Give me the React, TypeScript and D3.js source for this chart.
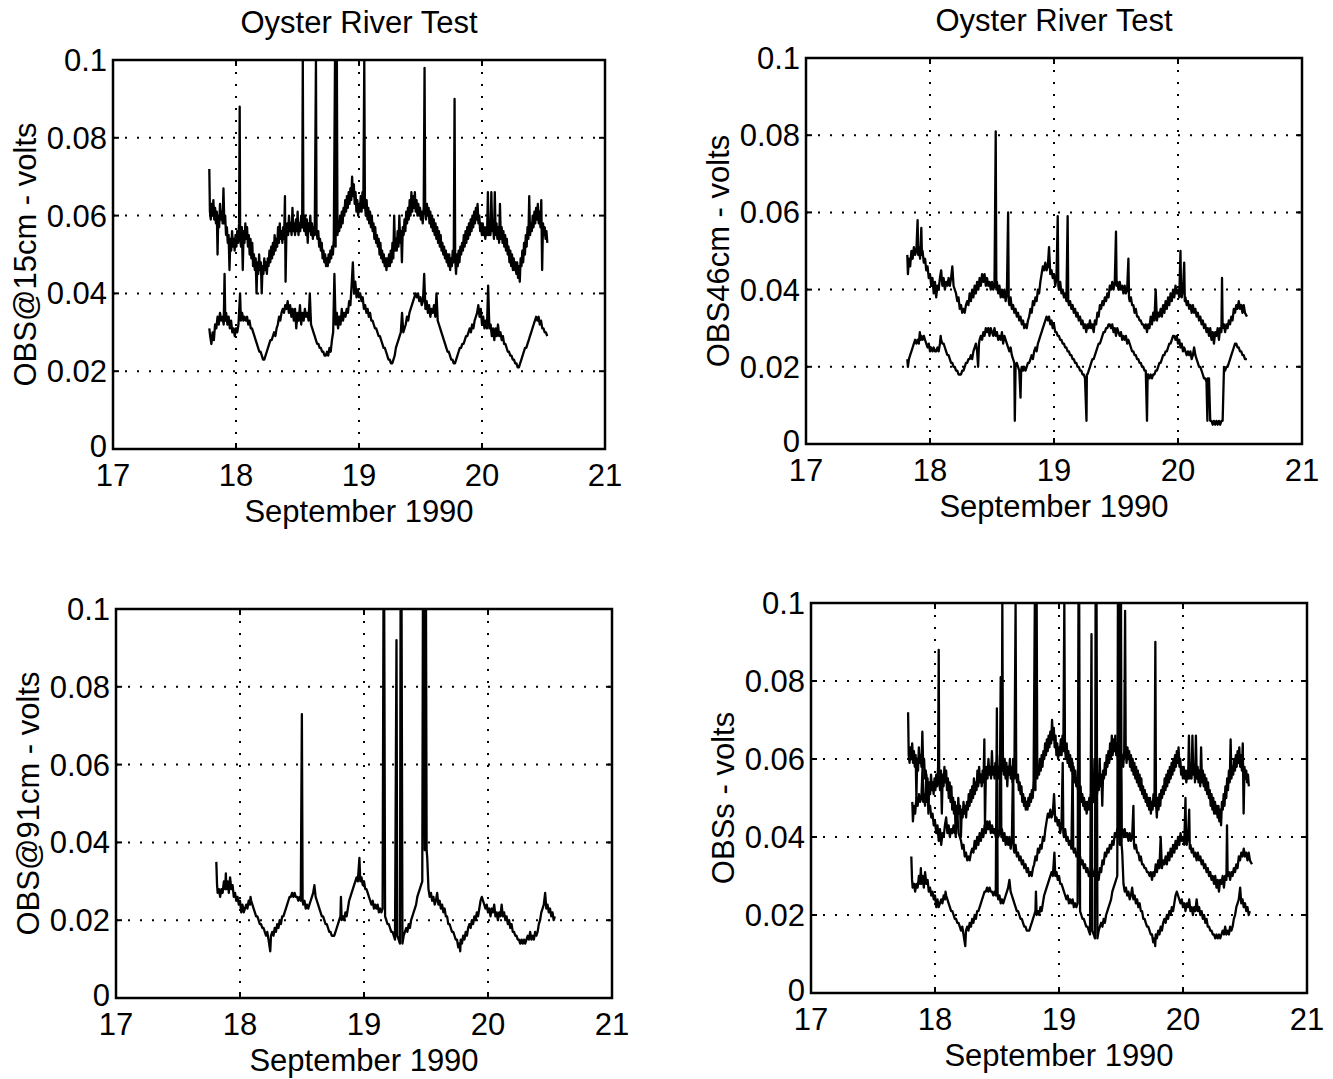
import React from "react";
import * as d3 from "d3";

type Pt = [number, number];

// OBS @ 15 cm, upper trace (day of September 1990, volts)
const obs15Upper: Pt[] = [
[17.783,.072],[17.788,.061],[17.795,.059],[17.802,.063],[17.809,.060],[17.816,.064],[17.823,.059],[17.830,.062],[17.837,.058],[17.844,.061],[17.850,.050],[17.856,.060],[17.863,.057],[17.870,.063],[17.877,.059],[17.884,.061],[17.891,.058],[17.898,.067],[17.905,.058],[17.912,.060],[17.919,.055],[17.926,.057],[17.933,.053],[17.940,.055],[17.947,.046],[17.954,.054],[17.961,.051],[17.968,.056],[17.975,.052],[17.982,.054],[17.989,.051],[17.996,.055],[18.003,.052],[18.010,.056],[18.017,.053],[18.025,.058],[18.030,.088],[18.034,.054],[18.041,.052],[18.048,.057],[18.055,.046],[18.062,.056],[18.069,.053],[18.076,.058],[18.083,.054],[18.090,.057],[18.097,.052],[18.104,.055],[18.111,.050],[18.118,.054],[18.125,.049],[18.132,.053],[18.139,.047],[18.146,.050],[18.153,.046],[18.160,.049],[18.167,.040],[18.174,.048],[18.181,.045],[18.188,.050],[18.195,.046],[18.202,.048],[18.209,.040],[18.216,.047],[18.223,.045],[18.230,.049],[18.237,.046],[18.244,.048],[18.251,.045],[18.258,.049],[18.265,.047],[18.272,.051],[18.279,.048],[18.286,.052],[18.293,.049],[18.300,.053],[18.307,.050],[18.314,.055],[18.321,.051],[18.328,.054],[18.335,.052],[18.342,.057],[18.349,.053],[18.356,.058],[18.363,.054],[18.370,.056],[18.377,.053],[18.384,.057],[18.391,.054],[18.398,.065],[18.403,.043],[18.410,.056],[18.417,.058],[18.424,.055],[18.431,.060],[18.438,.056],[18.445,.058],[18.452,.055],[18.459,.062],[18.466,.056],[18.473,.058],[18.480,.055],[18.487,.059],[18.494,.056],[18.501,.061],[18.508,.055],[18.515,.058],[18.522,.056],[18.530,.060],[18.538,.057],[18.543,.100],[18.548,.058],[18.555,.056],[18.562,.060],[18.569,.055],[18.576,.059],[18.583,.053],[18.590,.058],[18.597,.056],[18.604,.060],[18.611,.055],[18.618,.058],[18.625,.054],[18.632,.057],[18.640,.055],[18.650,.100],[18.655,.056],[18.662,.054],[18.669,.056],[18.676,.052],[18.683,.054],[18.690,.051],[18.697,.053],[18.704,.049],[18.711,.051],[18.718,.048],[18.725,.050],[18.732,.047],[18.739,.049],[18.746,.047],[18.753,.050],[18.760,.048],[18.767,.051],[18.774,.049],[18.781,.052],[18.788,.050],[18.795,.054],[18.805,.100],[18.810,.052],[18.815,.100],[18.820,.100],[18.825,.055],[18.832,.058],[18.839,.056],[18.846,.060],[18.853,.057],[18.860,.061],[18.867,.058],[18.874,.062],[18.881,.060],[18.888,.064],[18.895,.061],[18.902,.065],[18.909,.062],[18.916,.066],[18.923,.063],[18.930,.067],[18.937,.064],[18.944,.070],[18.951,.065],[18.958,.068],[18.965,.063],[18.972,.066],[18.979,.061],[18.986,.064],[18.993,.060],[19.000,.063],[19.007,.061],[19.014,.065],[19.021,.061],[19.028,.066],[19.035,.062],[19.043,.100],[19.048,.063],[19.055,.060],[19.062,.064],[19.069,.059],[19.076,.062],[19.083,.058],[19.090,.061],[19.097,.057],[19.104,.060],[19.111,.056],[19.118,.058],[19.125,.054],[19.132,.057],[19.139,.053],[19.146,.055],[19.153,.052],[19.160,.054],[19.167,.050],[19.174,.053],[19.181,.049],[19.188,.051],[19.195,.048],[19.202,.050],[19.209,.047],[19.216,.049],[19.223,.046],[19.230,.049],[19.237,.047],[19.244,.050],[19.251,.047],[19.258,.051],[19.265,.048],[19.272,.053],[19.279,.049],[19.286,.060],[19.293,.051],[19.300,.054],[19.307,.051],[19.314,.056],[19.321,.052],[19.328,.060],[19.335,.053],[19.342,.056],[19.349,.048],[19.356,.057],[19.363,.055],[19.370,.059],[19.377,.056],[19.384,.061],[19.391,.058],[19.398,.062],[19.405,.059],[19.412,.064],[19.419,.060],[19.426,.066],[19.433,.061],[19.440,.065],[19.447,.062],[19.454,.066],[19.461,.061],[19.468,.064],[19.475,.060],[19.482,.063],[19.489,.060],[19.496,.062],[19.503,.059],[19.510,.061],[19.518,.058],[19.526,.062],[19.533,.098],[19.538,.062],[19.545,.059],[19.552,.063],[19.559,.060],[19.566,.062],[19.573,.058],[19.580,.061],[19.587,.057],[19.594,.060],[19.601,.056],[19.608,.059],[19.615,.055],[19.622,.058],[19.629,.054],[19.636,.057],[19.643,.053],[19.650,.056],[19.657,.052],[19.664,.055],[19.671,.051],[19.678,.053],[19.685,.050],[19.692,.052],[19.699,.049],[19.706,.051],[19.713,.048],[19.720,.050],[19.727,.047],[19.734,.050],[19.741,.046],[19.748,.049],[19.755,.047],[19.762,.051],[19.770,.048],[19.777,.090],[19.782,.049],[19.789,.045],[19.796,.050],[19.803,.047],[19.810,.051],[19.817,.048],[19.824,.052],[19.831,.050],[19.838,.053],[19.845,.051],[19.852,.055],[19.859,.052],[19.866,.056],[19.873,.053],[19.880,.057],[19.887,.054],[19.894,.058],[19.901,.055],[19.908,.059],[19.915,.056],[19.922,.060],[19.929,.057],[19.936,.061],[19.943,.058],[19.950,.062],[19.957,.059],[19.964,.063],[19.971,.058],[19.978,.060],[19.985,.056],[19.992,.058],[19.999,.055],[20.006,.058],[20.013,.055],[20.020,.057],[20.027,.054],[20.034,.057],[20.041,.055],[20.048,.066],[20.055,.055],[20.062,.058],[20.069,.055],[20.076,.066],[20.083,.056],[20.090,.058],[20.097,.054],[20.104,.066],[20.111,.055],[20.118,.058],[20.125,.054],[20.132,.057],[20.139,.053],[20.146,.063],[20.153,.054],[20.160,.057],[20.167,.053],[20.174,.056],[20.181,.052],[20.188,.055],[20.195,.051],[20.202,.054],[20.209,.050],[20.216,.052],[20.223,.048],[20.230,.051],[20.237,.047],[20.244,.050],[20.251,.046],[20.258,.049],[20.265,.046],[20.272,.048],[20.279,.045],[20.286,.048],[20.293,.044],[20.300,.047],[20.307,.043],[20.314,.049],[20.321,.047],[20.328,.051],[20.335,.048],[20.342,.053],[20.349,.050],[20.356,.055],[20.363,.052],[20.370,.057],[20.377,.054],[20.384,.065],[20.391,.055],[20.398,.058],[20.405,.056],[20.412,.060],[20.419,.057],[20.426,.061],[20.433,.058],[20.440,.062],[20.447,.059],[20.454,.063],[20.461,.058],[20.468,.061],[20.475,.057],[20.482,.064],[20.489,.046],[20.496,.058],[20.503,.055],[20.510,.057],[20.517,.054],[20.524,.056],[20.531,.053]
];

// OBS @ 15 cm, lower trace
const obs15Lower: Pt[] = [
[17.783,.031],[17.79,.029],[17.80,.027],[17.81,.030],[17.82,.028],[17.83,.032],[17.84,.031],[17.85,.034],[17.86,.032],[17.87,.035],[17.88,.033],[17.89,.034],[17.90,.032],[17.907,.045],[17.913,.033],[17.92,.035],[17.93,.032],[17.94,.034],[17.95,.031],[17.96,.033],[17.97,.030],[17.98,.031],[17.99,.029],[18.00,.031],[18.01,.030],[18.02,.032],[18.033,.040],[18.04,.033],[18.05,.035],[18.06,.033],[18.07,.034],[18.08,.033],[18.09,.034],[18.10,.032],[18.11,.033],[18.12,.031],[18.13,.031],[18.14,.030],[18.15,.029],[18.16,.028],[18.17,.027],[18.18,.026],[18.19,.025],[18.20,.025],[18.21,.024],[18.22,.023],[18.23,.023],[18.24,.024],[18.25,.025],[18.26,.026],[18.27,.027],[18.28,.028],[18.29,.028],[18.30,.029],[18.31,.030],[18.32,.029],[18.33,.031],[18.34,.032],[18.35,.034],[18.36,.033],[18.37,.035],[18.38,.036],[18.39,.035],[18.40,.037],[18.41,.036],[18.42,.038],[18.43,.035],[18.44,.037],[18.45,.034],[18.46,.036],[18.47,.033],[18.48,.036],[18.49,.031],[18.50,.035],[18.51,.033],[18.52,.037],[18.53,.032],[18.54,.035],[18.55,.033],[18.56,.036],[18.57,.034],[18.58,.035],[18.59,.033],[18.60,.040],[18.61,.032],[18.62,.031],[18.63,.030],[18.64,.029],[18.65,.028],[18.66,.027],[18.67,.027],[18.68,.026],[18.69,.026],[18.70,.025],[18.71,.025],[18.72,.024],[18.73,.024],[18.74,.025],[18.75,.024],[18.76,.026],[18.77,.025],[18.78,.028],[18.79,.030],[18.80,.045],[18.81,.032],[18.82,.035],[18.83,.031],[18.84,.034],[18.85,.032],[18.86,.036],[18.87,.033],[18.88,.035],[18.89,.034],[18.90,.036],[18.91,.035],[18.92,.038],[18.93,.037],[18.94,.042],[18.95,.048],[18.96,.040],[18.97,.043],[18.98,.039],[18.99,.041],[19.00,.039],[19.01,.040],[19.02,.038],[19.03,.039],[19.04,.036],[19.05,.037],[19.06,.035],[19.07,.036],[19.08,.034],[19.09,.035],[19.10,.033],[19.11,.033],[19.12,.032],[19.13,.031],[19.14,.031],[19.15,.030],[19.16,.029],[19.17,.029],[19.18,.028],[19.19,.027],[19.20,.026],[19.21,.026],[19.22,.025],[19.23,.024],[19.24,.023],[19.25,.023],[19.26,.022],[19.27,.022],[19.28,.023],[19.29,.024],[19.30,.026],[19.31,.027],[19.32,.028],[19.33,.029],[19.34,.030],[19.35,.035],[19.36,.030],[19.37,.031],[19.38,.032],[19.39,.034],[19.40,.033],[19.41,.035],[19.42,.036],[19.43,.037],[19.44,.038],[19.45,.039],[19.46,.040],[19.47,.039],[19.48,.040],[19.49,.038],[19.50,.039],[19.51,.037],[19.52,.038],[19.53,.045],[19.54,.036],[19.55,.038],[19.56,.035],[19.57,.037],[19.58,.034],[19.59,.036],[19.60,.035],[19.61,.037],[19.62,.034],[19.63,.040],[19.64,.033],[19.65,.032],[19.66,.031],[19.67,.030],[19.68,.029],[19.69,.028],[19.70,.027],[19.71,.026],[19.72,.025],[19.73,.025],[19.74,.024],[19.75,.023],[19.76,.023],[19.77,.022],[19.78,.022],[19.79,.023],[19.80,.024],[19.81,.025],[19.82,.026],[19.83,.026],[19.84,.027],[19.85,.027],[19.86,.028],[19.87,.029],[19.88,.029],[19.89,.030],[19.90,.031],[19.91,.030],[19.92,.032],[19.93,.031],[19.94,.033],[19.95,.034],[19.96,.035],[19.97,.037],[19.98,.034],[19.99,.036],[20.00,.032],[20.01,.034],[20.02,.031],[20.03,.033],[20.04,.031],[20.05,.042],[20.06,.031],[20.07,.032],[20.08,.029],[20.09,.031],[20.10,.028],[20.11,.031],[20.12,.029],[20.13,.032],[20.14,.029],[20.15,.030],[20.16,.028],[20.17,.029],[20.18,.027],[20.19,.027],[20.20,.026],[20.21,.025],[20.22,.025],[20.23,.024],[20.24,.024],[20.25,.023],[20.26,.023],[20.27,.022],[20.28,.022],[20.29,.021],[20.30,.021],[20.31,.022],[20.32,.023],[20.33,.024],[20.34,.025],[20.35,.026],[20.36,.026],[20.37,.027],[20.38,.028],[20.39,.029],[20.40,.030],[20.41,.031],[20.42,.032],[20.43,.033],[20.44,.034],[20.45,.033],[20.46,.034],[20.47,.032],[20.48,.033],[20.49,.031],[20.50,.031],[20.51,.030],[20.52,.030],[20.53,.029]
];

// OBS 46 cm, upper trace
const obs46Upper: Pt[] = [
[17.817,.049],[17.822,.044],[17.83,.048],[17.84,.046],[17.85,.050],[17.86,.048],[17.87,.051],[17.88,.049],[17.89,.050],[17.90,.058],[17.905,.049],[17.91,.051],[17.92,.048],[17.93,.056],[17.935,.049],[17.94,.050],[17.95,.047],[17.96,.048],[17.97,.045],[17.98,.046],[17.99,.043],[18.00,.044],[18.01,.041],[18.02,.043],[18.03,.039],[18.04,.042],[18.05,.038],[18.06,.041],[18.07,.040],[18.08,.043],[18.09,.045],[18.10,.041],[18.11,.043],[18.12,.040],[18.13,.042],[18.14,.041],[18.15,.043],[18.16,.041],[18.17,.043],[18.18,.046],[18.19,.041],[18.20,.040],[18.21,.039],[18.22,.037],[18.23,.038],[18.24,.035],[18.25,.036],[18.26,.034],[18.27,.035],[18.28,.034],[18.29,.036],[18.30,.037],[18.31,.036],[18.32,.039],[18.33,.037],[18.34,.040],[18.35,.038],[18.36,.041],[18.37,.039],[18.38,.042],[18.39,.040],[18.40,.043],[18.41,.041],[18.42,.044],[18.43,.042],[18.44,.044],[18.45,.041],[18.46,.043],[18.47,.041],[18.48,.042],[18.49,.040],[18.50,.042],[18.51,.040],[18.52,.041],[18.53,.081],[18.535,.040],[18.54,.042],[18.55,.039],[18.56,.041],[18.57,.038],[18.58,.040],[18.59,.038],[18.60,.040],[18.61,.037],[18.62,.039],[18.63,.060],[18.635,.037],[18.64,.036],[18.65,.038],[18.66,.035],[18.67,.036],[18.68,.034],[18.69,.035],[18.70,.033],[18.71,.034],[18.72,.032],[18.73,.033],[18.74,.031],[18.75,.032],[18.76,.030],[18.77,.031],[18.78,.030],[18.79,.032],[18.80,.033],[18.81,.035],[18.82,.034],[18.83,.037],[18.84,.036],[18.85,.038],[18.86,.037],[18.87,.040],[18.88,.039],[18.89,.042],[18.90,.044],[18.91,.046],[18.92,.045],[18.93,.047],[18.94,.045],[18.95,.046],[18.96,.051],[18.97,.044],[18.98,.045],[18.99,.043],[19.00,.044],[19.01,.041],[19.02,.043],[19.03,.059],[19.035,.041],[19.04,.040],[19.05,.042],[19.06,.039],[19.07,.040],[19.08,.038],[19.09,.039],[19.10,.037],[19.11,.059],[19.115,.037],[19.12,.036],[19.13,.037],[19.14,.035],[19.15,.036],[19.16,.034],[19.17,.035],[19.18,.033],[19.19,.034],[19.20,.032],[19.21,.033],[19.22,.031],[19.23,.032],[19.24,.030],[19.25,.031],[19.26,.029],[19.27,.031],[19.28,.030],[19.29,.032],[19.30,.030],[19.31,.031],[19.32,.029],[19.33,.032],[19.34,.031],[19.35,.034],[19.36,.033],[19.37,.036],[19.38,.035],[19.39,.037],[19.40,.036],[19.41,.038],[19.42,.037],[19.43,.039],[19.44,.038],[19.45,.041],[19.46,.040],[19.47,.042],[19.48,.040],[19.49,.042],[19.50,.055],[19.505,.041],[19.51,.042],[19.52,.040],[19.53,.042],[19.54,.040],[19.55,.041],[19.56,.039],[19.57,.041],[19.58,.039],[19.59,.040],[19.60,.048],[19.605,.038],[19.61,.037],[19.62,.038],[19.63,.036],[19.64,.036],[19.65,.034],[19.66,.035],[19.67,.033],[19.68,.033],[19.69,.032],[19.70,.032],[19.71,.031],[19.72,.031],[19.73,.030],[19.74,.031],[19.75,.029],[19.76,.031],[19.77,.030],[19.78,.033],[19.79,.031],[19.80,.034],[19.81,.032],[19.82,.040],[19.83,.032],[19.84,.034],[19.85,.033],[19.86,.035],[19.87,.033],[19.88,.036],[19.89,.034],[19.90,.037],[19.91,.035],[19.92,.038],[19.93,.036],[19.94,.039],[19.95,.037],[19.96,.040],[19.97,.038],[19.98,.041],[19.99,.039],[20.00,.040],[20.01,.038],[20.02,.050],[20.025,.039],[20.03,.038],[20.04,.040],[20.05,.047],[20.055,.037],[20.06,.038],[20.07,.036],[20.08,.037],[20.09,.035],[20.10,.036],[20.11,.034],[20.12,.036],[20.13,.034],[20.14,.035],[20.15,.033],[20.16,.034],[20.17,.032],[20.18,.033],[20.19,.031],[20.20,.032],[20.21,.030],[20.22,.031],[20.23,.029],[20.24,.030],[20.25,.028],[20.26,.030],[20.27,.027],[20.28,.029],[20.29,.026],[20.30,.029],[20.31,.028],[20.32,.030],[20.33,.027],[20.34,.030],[20.35,.029],[20.355,.043],[20.36,.030],[20.37,.031],[20.38,.029],[20.39,.031],[20.40,.030],[20.41,.032],[20.42,.031],[20.43,.033],[20.44,.032],[20.45,.035],[20.46,.034],[20.47,.036],[20.48,.035],[20.49,.037],[20.50,.035],[20.51,.036],[20.52,.034],[20.53,.036],[20.54,.034],[20.556,.033]
];

// OBS 46 cm, lower trace
const obs46Lower: Pt[] = [
[17.817,.022],[17.822,.020],[17.83,.022],[17.84,.023],[17.85,.024],[17.86,.025],[17.87,.026],[17.88,.027],[17.89,.026],[17.90,.027],[17.91,.026],[17.918,.029],[17.925,.027],[17.93,.028],[17.94,.027],[17.95,.028],[17.96,.027],[17.97,.026],[17.98,.025],[17.99,.026],[18.00,.024],[18.01,.025],[18.02,.024],[18.03,.025],[18.04,.024],[18.05,.024],[18.06,.025],[18.07,.024],[18.08,.026],[18.086,.028],[18.09,.027],[18.10,.026],[18.11,.026],[18.12,.025],[18.13,.024],[18.14,.023],[18.15,.023],[18.16,.022],[18.17,.021],[18.18,.021],[18.19,.020],[18.20,.020],[18.21,.019],[18.22,.019],[18.23,.018],[18.24,.018],[18.25,.018],[18.26,.019],[18.27,.019],[18.28,.020],[18.29,.021],[18.30,.021],[18.31,.022],[18.32,.022],[18.33,.023],[18.34,.022],[18.35,.024],[18.36,.025],[18.37,.026],[18.38,.024],[18.388,.020],[18.395,.026],[18.40,.027],[18.41,.028],[18.42,.027],[18.43,.029],[18.44,.028],[18.45,.030],[18.46,.029],[18.47,.030],[18.48,.028],[18.49,.030],[18.50,.029],[18.51,.028],[18.52,.030],[18.53,.028],[18.54,.029],[18.55,.027],[18.56,.028],[18.57,.027],[18.58,.029],[18.59,.026],[18.60,.028],[18.61,.027],[18.62,.026],[18.63,.025],[18.64,.024],[18.65,.025],[18.66,.023],[18.67,.022],[18.68,.021],[18.684,.006],[18.69,.020],[18.70,.021],[18.71,.020],[18.72,.019],[18.73,.012],[18.735,.019],[18.74,.020],[18.75,.019],[18.76,.020],[18.77,.019],[18.78,.020],[18.79,.021],[18.80,.021],[18.81,.022],[18.82,.023],[18.83,.022],[18.84,.024],[18.85,.025],[18.86,.024],[18.87,.026],[18.88,.027],[18.89,.028],[18.90,.029],[18.91,.030],[18.92,.031],[18.93,.032],[18.94,.033],[18.95,.032],[18.96,.033],[18.97,.031],[18.98,.032],[18.99,.030],[19.00,.031],[19.01,.029],[19.02,.029],[19.03,.028],[19.04,.028],[19.05,.027],[19.06,.027],[19.07,.026],[19.08,.026],[19.09,.025],[19.10,.025],[19.11,.024],[19.12,.024],[19.13,.023],[19.14,.023],[19.15,.022],[19.16,.022],[19.17,.021],[19.18,.021],[19.19,.020],[19.20,.020],[19.21,.019],[19.22,.019],[19.23,.018],[19.24,.018],[19.25,.017],[19.262,.006],[19.265,.018],[19.27,.018],[19.28,.019],[19.29,.020],[19.30,.021],[19.31,.022],[19.32,.022],[19.33,.023],[19.34,.024],[19.35,.025],[19.36,.026],[19.37,.026],[19.38,.027],[19.39,.028],[19.40,.029],[19.41,.029],[19.42,.030],[19.43,.030],[19.44,.031],[19.45,.031],[19.46,.030],[19.47,.031],[19.48,.029],[19.49,.030],[19.50,.028],[19.51,.030],[19.52,.029],[19.53,.028],[19.54,.029],[19.55,.027],[19.56,.028],[19.57,.027],[19.58,.028],[19.59,.026],[19.60,.027],[19.61,.026],[19.62,.025],[19.63,.024],[19.64,.024],[19.65,.023],[19.66,.023],[19.67,.022],[19.68,.022],[19.69,.021],[19.70,.021],[19.71,.020],[19.72,.020],[19.73,.019],[19.74,.019],[19.75,.006],[19.755,.018],[19.76,.018],[19.77,.017],[19.78,.018],[19.79,.017],[19.80,.018],[19.81,.018],[19.82,.019],[19.83,.019],[19.84,.020],[19.85,.021],[19.86,.021],[19.87,.022],[19.88,.023],[19.89,.023],[19.90,.024],[19.91,.024],[19.92,.025],[19.93,.026],[19.94,.026],[19.95,.027],[19.96,.028],[19.97,.028],[19.98,.027],[19.99,.028],[20.00,.026],[20.01,.027],[20.02,.025],[20.03,.026],[20.04,.024],[20.05,.025],[20.06,.024],[20.07,.023],[20.08,.024],[20.09,.023],[20.10,.024],[20.11,.022],[20.12,.023],[20.13,.025],[20.14,.023],[20.15,.022],[20.16,.021],[20.17,.020],[20.18,.020],[20.19,.019],[20.20,.018],[20.21,.017],[20.22,.017],[20.23,.016],[20.237,.006],[20.24,.017],[20.25,.017],[20.26,.006],[20.27,.006],[20.28,.005],[20.29,.006],[20.30,.005],[20.31,.006],[20.32,.005],[20.33,.006],[20.34,.005],[20.35,.006],[20.36,.006],[20.371,.020],[20.38,.019],[20.39,.020],[20.40,.020],[20.41,.021],[20.42,.022],[20.43,.023],[20.44,.024],[20.45,.025],[20.46,.026],[20.47,.026],[20.48,.025],[20.49,.025],[20.50,.024],[20.51,.024],[20.52,.023],[20.53,.023],[20.54,.022],[20.556,.022]
];

// OBS @ 91 cm
const obs91: Pt[] = [
[17.809,.035],[17.815,.029],[17.82,.027],[17.83,.028],[17.84,.026],[17.85,.028],[17.86,.027],[17.87,.030],[17.88,.028],[17.886,.032],[17.89,.028],[17.90,.030],[17.91,.027],[17.92,.031],[17.93,.028],[17.94,.029],[17.95,.026],[17.96,.027],[17.97,.025],[17.98,.026],[17.99,.024],[18.00,.025],[18.01,.022],[18.02,.024],[18.03,.022],[18.04,.023],[18.05,.024],[18.06,.023],[18.07,.025],[18.08,.024],[18.085,.026],[18.09,.025],[18.10,.024],[18.11,.023],[18.12,.022],[18.13,.021],[18.14,.021],[18.15,.020],[18.16,.019],[18.17,.019],[18.18,.018],[18.19,.018],[18.20,.017],[18.21,.016],[18.22,.017],[18.23,.015],[18.244,.012],[18.25,.016],[18.26,.017],[18.27,.016],[18.28,.018],[18.29,.017],[18.30,.019],[18.31,.018],[18.32,.020],[18.33,.019],[18.34,.021],[18.35,.021],[18.36,.022],[18.37,.023],[18.38,.024],[18.39,.025],[18.40,.026],[18.41,.026],[18.42,.027],[18.43,.026],[18.44,.027],[18.45,.026],[18.46,.026],[18.47,.025],[18.48,.026],[18.49,.025],[18.499,.073],[18.505,.025],[18.51,.024],[18.52,.025],[18.53,.023],[18.54,.024],[18.55,.023],[18.56,.024],[18.57,.025],[18.58,.026],[18.59,.027],[18.60,.029],[18.61,.026],[18.62,.025],[18.63,.024],[18.64,.023],[18.65,.022],[18.66,.021],[18.67,.021],[18.68,.020],[18.69,.019],[18.70,.019],[18.71,.018],[18.72,.017],[18.73,.017],[18.74,.016],[18.75,.016],[18.76,.016],[18.77,.017],[18.78,.018],[18.79,.019],[18.80,.020],[18.81,.021],[18.814,.026],[18.82,.020],[18.83,.021],[18.84,.020],[18.85,.022],[18.86,.021],[18.87,.023],[18.88,.025],[18.89,.026],[18.90,.027],[18.91,.028],[18.92,.029],[18.93,.030],[18.94,.031],[18.95,.030],[18.963,.036],[18.97,.030],[18.98,.031],[18.99,.029],[19.00,.030],[19.01,.028],[19.02,.028],[19.03,.027],[19.04,.026],[19.05,.025],[19.06,.024],[19.07,.025],[19.08,.023],[19.09,.024],[19.10,.023],[19.11,.024],[19.12,.022],[19.13,.023],[19.14,.022],[19.15,.023],[19.157,.100],[19.163,.100],[19.17,.021],[19.18,.020],[19.19,.019],[19.20,.019],[19.21,.018],[19.22,.017],[19.23,.017],[19.24,.016],[19.25,.015],[19.262,.092],[19.268,.016],[19.28,.015],[19.29,.014],[19.295,.100],[19.303,.100],[19.31,.014],[19.32,.016],[19.33,.017],[19.34,.018],[19.35,.017],[19.36,.019],[19.37,.018],[19.38,.020],[19.39,.021],[19.40,.022],[19.41,.023],[19.42,.024],[19.43,.026],[19.44,.027],[19.45,.028],[19.46,.029],[19.47,.030],[19.475,.100],[19.48,.100],[19.49,.038],[19.495,.100],[19.50,.100],[19.505,.038],[19.51,.036],[19.52,.028],[19.53,.026],[19.54,.027],[19.55,.025],[19.56,.026],[19.57,.024],[19.58,.025],[19.59,.027],[19.60,.024],[19.61,.025],[19.62,.023],[19.63,.024],[19.64,.022],[19.65,.023],[19.66,.021],[19.67,.021],[19.68,.019],[19.69,.019],[19.70,.018],[19.71,.017],[19.72,.017],[19.73,.016],[19.74,.015],[19.75,.015],[19.76,.013],[19.77,.014],[19.776,.012],[19.78,.015],[19.79,.014],[19.80,.016],[19.81,.015],[19.82,.017],[19.83,.016],[19.84,.018],[19.85,.019],[19.86,.018],[19.87,.020],[19.88,.019],[19.89,.021],[19.90,.020],[19.91,.022],[19.92,.021],[19.93,.023],[19.94,.025],[19.95,.026],[19.96,.025],[19.97,.024],[19.98,.023],[19.99,.024],[20.00,.022],[20.01,.023],[20.02,.021],[20.03,.023],[20.04,.022],[20.05,.024],[20.06,.021],[20.07,.022],[20.08,.020],[20.09,.022],[20.10,.021],[20.11,.024],[20.12,.021],[20.13,.022],[20.14,.020],[20.15,.021],[20.16,.019],[20.17,.020],[20.18,.018],[20.19,.019],[20.20,.017],[20.21,.017],[20.22,.016],[20.23,.016],[20.24,.015],[20.25,.015],[20.26,.014],[20.27,.015],[20.28,.014],[20.29,.015],[20.30,.014],[20.31,.015],[20.32,.016],[20.33,.015],[20.34,.017],[20.35,.015],[20.36,.016],[20.37,.015],[20.38,.017],[20.39,.016],[20.40,.017],[20.41,.019],[20.42,.020],[20.43,.022],[20.44,.023],[20.45,.024],[20.461,.027],[20.47,.023],[20.48,.024],[20.49,.022],[20.50,.023],[20.51,.021],[20.52,.022],[20.53,.020],[20.539,.021]
];

const xTicks = [17, 18, 19, 20, 21];
const yTicks = [0, 0.02, 0.04, 0.06, 0.08, 0.1];
const yTickLabels = ["0", "0.02", "0.04", "0.06", "0.08", "0.1"];
const titles = ["Oyster River Test", "Oyster River Test", "", ""];
const yLabels = ["OBS@15cm - volts", "OBS46cm - volts", "OBS@91cm - volts", "OBSs - volts"];
const xLabel = "September 1990";
const panelSeries: Pt[][][] = [
  [obs15Upper, obs15Lower],
  [obs46Upper, obs46Lower],
  [obs91],
  [obs15Upper, obs46Upper, obs91],
];

// layout (pixel boxes of the four axes)
const boxes = [
  { l: 113, t: 60, r: 605, b: 449 },
  { l: 806, t: 58, r: 1302, b: 444 },
  { l: 116, t: 609, r: 612, b: 998 },
  { l: 811, t: 603, r: 1307, b: 993 },
];

const FONT = "'Liberation Sans', Arial, Helvetica, sans-serif";
const FS = 31;

function Panel({ i }: { i: number }) {
  const bx = boxes[i];
  const x = d3.scaleLinear().domain([17, 21]).range([bx.l, bx.r]);
  const y = d3.scaleLinear().domain([0, 0.1]).range([bx.b, bx.t]);
  const line = d3.line<Pt>().x((d) => x(d[0])).y((d) => y(d[1]));
  const cx = (bx.l + bx.r) / 2;
  const cy = (bx.t + bx.b) / 2;
  const clipId = `clip${i}`;
  const tk = 6;
  return (
    <g>
      <defs>
        <clipPath id={clipId}>
          <rect x={bx.l} y={bx.t - 1} width={bx.r - bx.l} height={bx.b - bx.t + 1} />
        </clipPath>
      </defs>
      {xTicks.slice(1, -1).map((v) => (
        <line key={"gx" + v} x1={x(v)} x2={x(v)} y1={bx.t} y2={bx.b} stroke="#000" strokeWidth={2} strokeDasharray="2 10" />
      ))}
      {yTicks.slice(1, -1).map((v) => (
        <line key={"gy" + v} x1={bx.l} x2={bx.r} y1={y(v)} y2={y(v)} stroke="#000" strokeWidth={2} strokeDasharray="2 10" />
      ))}
      <g clipPath={`url(#${clipId})`}>
        {panelSeries[i].map((s, k) => (
          <path key={k} d={line(s) || ""} fill="none" stroke="#000" strokeWidth={2.3} strokeLinejoin="round" />
        ))}
      </g>
      {xTicks.map((v) => (
        <g key={"tx" + v}>
          <line x1={x(v)} x2={x(v)} y1={bx.b} y2={bx.b - tk} stroke="#000" strokeWidth={2} />
          <line x1={x(v)} x2={x(v)} y1={bx.t} y2={bx.t + tk} stroke="#000" strokeWidth={2} />
          <text x={x(v)} y={bx.b + 37} textAnchor="middle" fontFamily={FONT} fontSize={FS}>{v}</text>
        </g>
      ))}
      {yTicks.map((v, k) => (
        <g key={"ty" + v}>
          <line x1={bx.l} x2={bx.l + tk} y1={y(v)} y2={y(v)} stroke="#000" strokeWidth={2} />
          <line x1={bx.r} x2={bx.r - tk} y1={y(v)} y2={y(v)} stroke="#000" strokeWidth={2} />
          <text x={bx.l - 6} y={y(v) + (v === 0 ? 8 : 11)} textAnchor="end" fontFamily={FONT} fontSize={FS}>{yTickLabels[k]}</text>
        </g>
      ))}
      <rect x={bx.l} y={bx.t} width={bx.r - bx.l} height={bx.b - bx.t} fill="none" stroke="#000" strokeWidth={2.5} />
      {titles[i] && (
        <text x={cx} y={bx.t - 27} textAnchor="middle" fontFamily={FONT} fontSize={FS}>{titles[i]}</text>
      )}
      <text x={cx} y={bx.b + 73} textAnchor="middle" fontFamily={FONT} fontSize={FS}>{xLabel}</text>
      <text transform={`translate(${bx.l - 77},${cy}) rotate(-90)`} textAnchor="middle" fontFamily={FONT} fontSize={FS}>{yLabels[i]}</text>
    </g>
  );
}

export default function App() {
  return (
    <div style={{ position: "absolute", left: 0, top: 0 }}>
      <svg width={1333} height={1079} viewBox="0 0 1333 1079" style={{ display: "block", background: "#fff" }}>
        <rect width={1333} height={1079} fill="#fff" />
        {[0, 1, 2, 3].map((i) => (
          <Panel key={i} i={i} />
        ))}
      </svg>
    </div>
  );
}
